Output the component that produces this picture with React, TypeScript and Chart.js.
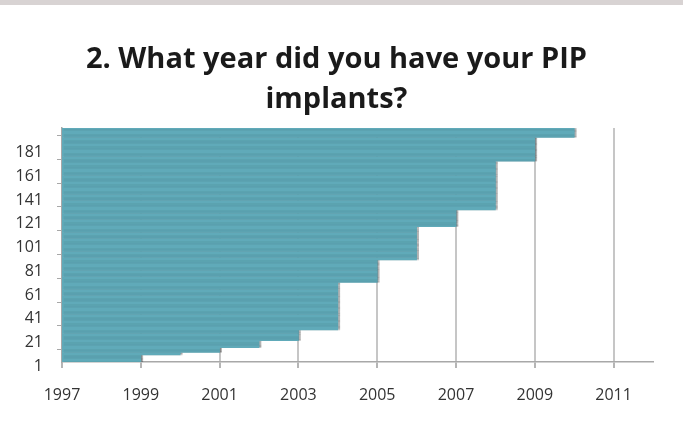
import React, { useEffect, useRef } from "react";
import { Chart, registerables } from "chart.js";

Chart.register(...registerables);

// Year of implant, and number of respondents for each year (sorted, one bar per respondent)
const YEARS = [1999, 2000, 2001, 2002, 2003, 2004, 2005, 2006, 2007, 2008, 2009, 2010];
const COUNTS = [6, 2, 4, 6, 9, 40, 19, 28, 14, 41, 20, 8];

const Y_TICK_LABELS = ["1", "21", "41", "61", "81", "101", "121", "141", "161", "181"];
const X_TICKS = [1997, 1999, 2001, 2003, 2005, 2007, 2009, 2011];
const X_MIN = 1997;
const X_MAX = 2012;

const TITLE = ["2. What year did you have your PIP", "implants?"];

const shadowPlugin = {
  id: "barShadow",
  beforeDatasetsDraw(chart: any) {
    const ctx = chart.ctx;
    ctx.save();
    ctx.shadowColor = "rgba(0,0,0,0.22)";
    ctx.shadowBlur = 0;
    ctx.shadowOffsetX = 2;
    ctx.shadowOffsetY = 0;
  },
  afterDatasetsDraw(chart: any) {
    chart.ctx.restore();
  },
};

export default function App() {
  const canvasRef = useRef<HTMLCanvasElement | null>(null);

  useEffect(() => {
    if (!canvasRef.current) return;
    const respondentYears: number[] = [];
    YEARS.forEach((y, i) => {
      for (let k = 0; k < COUNTS[i]; k++) respondentYears.push(y);
    });
    const labels = respondentYears.map((_, i) => String(i + 1));

    const chart = new Chart(canvasRef.current, {
      type: "bar",
      data: {
        labels,
        datasets: [
          {
            data: respondentYears.map((y) => [X_MIN, y]) as any,
            backgroundColor: "#60aab9",
            borderWidth: 0,
            barPercentage: 1,
            categoryPercentage: 1,
          },
        ],
      },
      plugins: [shadowPlugin],
      options: {
        animation: false,
        responsive: false,
        indexAxis: "y",
        layout: { padding: { left: 0, right: 30, top: 128, bottom: 0 } },
        plugins: {
          legend: { display: false },
          tooltip: { enabled: false },
          title: { display: false },
        },
        scales: {
          x: {
            type: "linear",
            min: X_MIN,
            max: X_MAX,
            afterBuildTicks: (axis: any) => {
              axis.ticks = X_TICKS.map((v) => ({ value: v }));
            },
            afterFit: (scale: any) => {
              scale.height = 61;
            },
            grid: {
              color: "#c6c6c6",
              lineWidth: 2,
              drawTicks: true,
              tickLength: 6,
              tickColor: "#b5b5b5",
            },
            border: { display: true, color: "#a8a8a8", width: 1.5 },
            ticks: {
              color: "#333333",
              padding: 18,
              font: { family: "Open Sans", size: 16 },
              callback: (v: any) => String(v),
            },
          },
          y: {
            type: "category",
            reverse: true,
            afterFit: (scale: any) => {
              scale.width = 62;
            },
            grid: {
              display: true,
              drawOnChartArea: false,
              drawTicks: true,
              tickLength: 5,
              tickColor: "#a8a8a8",
            },
            border: { display: true, color: "#a8a8a8", width: 1.5 },
            ticks: {
              autoSkip: false,
              color: "#333333",
              padding: 14,
              labelOffset: 5,
              font: { family: "Open Sans", size: 16 },
              callback: function (_v: any, idx: number) {
                const l = String(idx + 1);
                return Y_TICK_LABELS.includes(l) ? l : null;
              },
            },
          },
        },
      },
    });
    return () => chart.destroy();
  }, []);

  return (
    <div
      style={{
        position: "fixed",
        left: 0,
        top: 0,
        width: 683,
        height: 423,
        background: "#ffffff",
        overflow: "hidden",
      }}
    >
      <div style={{ position: "absolute", left: 0, top: 0, width: 683, height: 5, background: "#d8d3d3" }} />
      <canvas
        ref={canvasRef}
        width={683}
        height={423}
        style={{ position: "absolute", left: 0, top: 0, display: "block" }}
      />
      <div
        style={{
          position: "absolute",
          left: -5,
          top: 37,
          width: 683,
          textAlign: "center",
          fontFamily: "'Open Sans', sans-serif",
          fontWeight: 700,
          fontSize: 29,
          lineHeight: "40px",
          color: "#1a1a1a",
        }}
      >
        {TITLE.map((t, i) => (
          <div key={i}>{t}</div>
        ))}
      </div>
    </div>
  );
}
